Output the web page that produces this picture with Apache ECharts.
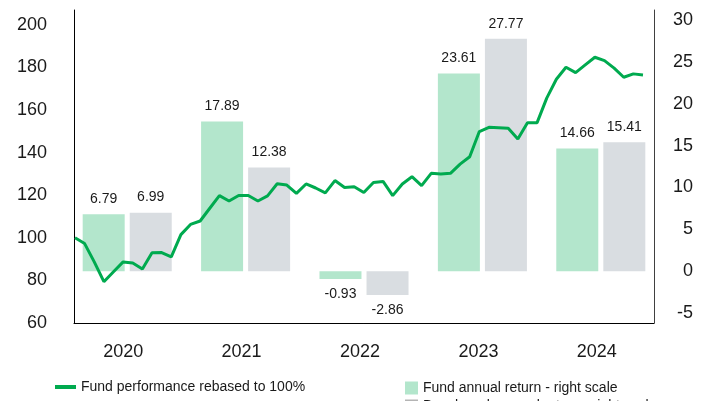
<!DOCTYPE html>
<html>
<head>
<meta charset="utf-8">
<script src="https://cdn.jsdelivr.net/npm/echarts@6/dist/echarts.min.js"></script>
<style>
  body { margin: 0; padding: 0; background: #fff; }
  #chart { width: 710px; height: 401px; }
</style>
</head>
<body>
<div id="chart"></div>
<script>
const years = ['2020', '2021', '2022', '2023', '2024'];
const fundReturn = [6.79, 17.89, -0.93, 23.61, 14.66];
const benchReturn = [6.99, 12.38, -2.86, 27.77, 15.41];

// monthly fund index, rebased to 100
const fundIndex = [
  100.0, 97.3, 88.7, 79.4, 84.1, 88.7, 88.2, 85.4, 93.0, 93.1,
  91.1, 101.5, 106.3, 107.9, 113.9, 119.8, 117.3, 119.9, 119.9, 117.3,
  119.7, 125.4, 124.8, 120.9, 125.3, 123.4, 121.1, 126.9, 123.6, 124.0,
  121.3, 126.0, 126.5, 119.8, 125.3, 128.7, 124.5, 130.3, 130.0, 130.3,
  134.6, 138.1, 149.9, 151.9, 151.7, 151.5, 146.4, 154.1, 154.1, 165.6,
  174.5, 180.1, 177.6, 181.2, 184.8, 183.2, 179.7, 175.4, 177.0, 176.5
];
const months = [];
for (let i = 0; i < fundIndex.length; i++) {
  const m = (11 + i) % 12, y = 2019 + Math.floor((11 + i) / 12);
  months.push(y + '-' + String(m + 1).padStart(2, '0'));
}

const font = 'Liberation Sans, Arial, sans-serif';
const txt = '#1a1a1a';
const green = '#00aa4f';
const fundBar = '#b3e6cc';
const benchBar = '#d9dde1';

const barLabel = v => ({
  value: v,
  label: { position: v < 0 ? 'bottom' : 'top' }
});

const legendText = { fontFamily: font, fontSize: 14, color: txt };

const chart = echarts.init(document.getElementById('chart'));
chart.setOption({
  animation: false,
  grid: [
    { left: 74, right: 56, top: 10, bottom: 78 },
    { left: 68, right: 50, top: 20, bottom: 88 },
    { left: 75, right: 67, top: 10, bottom: 78 }
  ],
  legend: [
    {
      left: 50, top: 375, itemWidth: 21, itemHeight: 4, textStyle: legendText,
      data: [{ name: 'Fund performance rebased to 100%', icon: 'rect', itemStyle: { color: green } }]
    },
    {
      left: 400, top: 376, itemWidth: 13, itemHeight: 13, textStyle: legendText,
      data: [{ name: 'Fund annual return - right scale', icon: 'rect', itemStyle: { color: fundBar } }]
    },
    {
      left: 400, top: 394, itemWidth: 13, itemHeight: 13, textStyle: legendText,
      data: [{ name: 'Benchmark annual return - right scale', icon: 'rect', itemStyle: { color: '#b4b4b4' } }]
    }
  ],
  xAxis: [
    {
      gridIndex: 0, type: 'value', min: 0, max: 1,
      axisLine: { onZero: false, lineStyle: { color: '#000', width: 1 } },
      axisTick: { show: false }, axisLabel: { show: false }, splitLine: { show: false }
    },
    {
      gridIndex: 1, type: 'category', data: years,
      axisLine: { show: false }, axisTick: { show: false },
      axisLabel: { fontFamily: font, fontSize: 18, color: txt, margin: 30, padding: [0, 8, 0, 0] }
    },
    {
      gridIndex: 2, type: 'category', data: months, boundaryGap: false, show: false
    }
  ],
  yAxis: [
    {
      gridIndex: 0, type: 'value', position: 'left', min: 60, max: 207, interval: 20,
      axisLine: { show: true, lineStyle: { color: '#000', width: 1 } },
      axisTick: { show: false }, splitLine: { show: false },
      axisLabel: { fontFamily: font, fontSize: 18, color: txt, margin: 27, showMaxLabel: false }
    },
    {
      gridIndex: 0, type: 'value', position: 'right', min: 0, max: 1,
      axisLine: { show: true, lineStyle: { color: '#404040', width: 1 } },
      axisTick: { show: false }, axisLabel: { show: false }, splitLine: { show: false }
    },
    {
      gridIndex: 1, type: 'value', position: 'right', min: -5, max: 30, interval: 5,
      axisLine: { show: false }, axisTick: { show: false }, splitLine: { show: false },
      axisLabel: { fontFamily: font, fontSize: 18, color: txt, align: 'right', margin: 33 }
    },
    {
      gridIndex: 2, type: 'value', min: 60, max: 207, show: false
    }
  ],
  series: [
    {
      name: 'Fund annual return - right scale', type: 'bar',
      xAxisIndex: 1, yAxisIndex: 2,
      barWidth: 42, barGap: '12%',
      itemStyle: { color: fundBar },
      label: { show: true, distance: 8, fontFamily: font, fontSize: 14, color: txt },
      data: fundReturn.map(barLabel)
    },
    {
      name: 'Benchmark annual return - right scale', type: 'bar',
      xAxisIndex: 1, yAxisIndex: 2,
      barWidth: 42, barGap: '12%',
      itemStyle: { color: benchBar },
      label: { show: true, distance: 8, fontFamily: font, fontSize: 14, color: txt },
      data: benchReturn.map(barLabel)
    },
    {
      name: 'Fund performance rebased to 100%', type: 'line',
      xAxisIndex: 2, yAxisIndex: 3, z: 5,
      symbol: 'none',
      lineStyle: { color: green, width: 3 },
      itemStyle: { color: green },
      data: fundIndex
    }
  ]
});
</script>
</body>
</html>
